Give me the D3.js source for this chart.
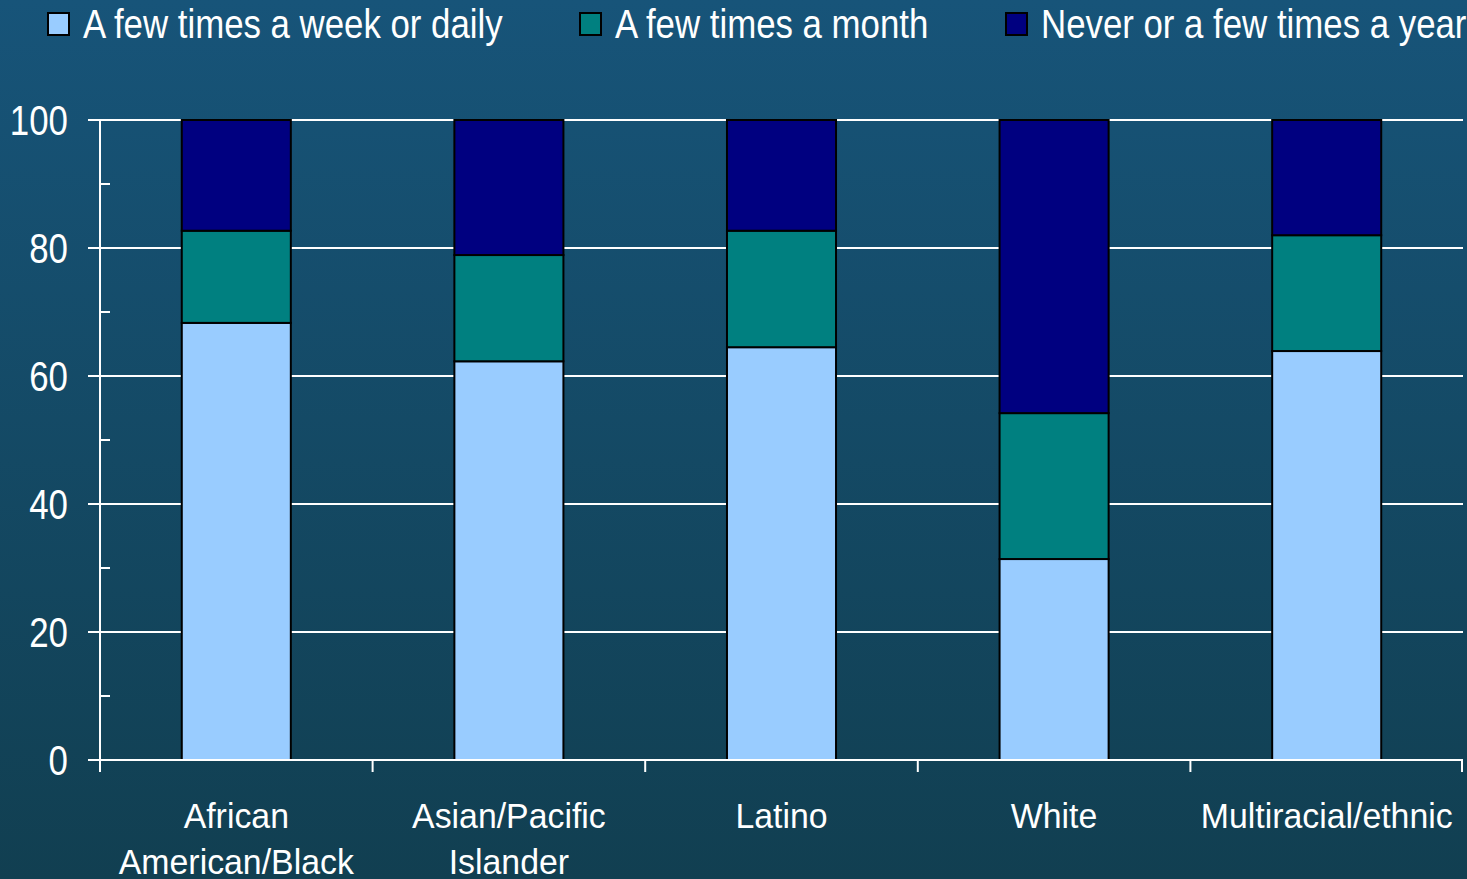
<!DOCTYPE html>
<html>
<head>
<meta charset="utf-8">
<script src="https://cdn.jsdelivr.net/npm/d3@7"></script>
<style>
  html, body { margin: 0; padding: 0; overflow: hidden; }
  svg text { font-family: "Liberation Sans", Arial, sans-serif; fill: #fff; }
</style>
</head>
<body>
<div id="chart"></div>
<script>
const groups = ['African American/Black', 'Asian/Pacific Islander', 'Latino', 'White', 'Multiracial/ethnic'];
const groupLines = [['African', 'American/Black'], ['Asian/Pacific', 'Islander'], ['Latino'], ['White'], ['Multiracial/ethnic']];
const seriesNames = ['A few times a week or daily', 'A few times a month', 'Never or a few times a year'];
const weekly = [68.3, 62.3, 64.5, 31.4, 63.9];
const monthly = [14.4, 16.6, 18.2, 22.8, 18.1];
const yearly = [17.3, 21.1, 17.3, 45.8, 18.0];
const yTicks = [0, 20, 40, 60, 80, 100];
const colors = ['#99ccff', '#008080', '#000080'];

const width = 1467;
const height = 879;
const margin = { top: 120, right: 4, bottom: 119, left: 100 };

const rows = groups.map((g, i) => ({ group: g, s0: weekly[i], s1: monthly[i], s2: yearly[i] }));
const stacked = d3.stack().keys(['s0', 's1', 's2'])(rows);

const svg = d3.select('#chart').append('svg')
  .attr('width', width)
  .attr('height', height);

const defs = svg.append('defs');
const grad = defs.append('linearGradient')
  .attr('id', 'bg').attr('x1', 0).attr('y1', 0).attr('x2', 0).attr('y2', 1);
grad.append('stop').attr('offset', '0%').attr('stop-color', '#175479');
grad.append('stop').attr('offset', '100%').attr('stop-color', '#113f51');
svg.append('rect').attr('width', width).attr('height', height).attr('fill', 'url(#bg)');

const x = d3.scaleBand().domain(groups).range([margin.left, width - margin.right]).paddingInner(0).paddingOuter(0);
const y = d3.scaleLinear().domain([0, 100]).range([height - margin.bottom, margin.top]);

// gridlines
svg.append('g')
  .selectAll('line')
  .data(yTicks.filter(d => d > 0))
  .join('line')
  .attr('x1', margin.left - 12)
  .attr('x2', width - margin.right)
  .attr('y1', d => y(d))
  .attr('y2', d => y(d))
  .attr('stroke', '#fff')
  .attr('stroke-width', 2);

// bars
const barW = x.bandwidth() * 0.4;
svg.append('g')
  .selectAll('g')
  .data(stacked)
  .join('g')
  .attr('fill', (d, i) => colors[i])
  .selectAll('rect')
  .data(d => d)
  .join('rect')
  .attr('x', d => x(d.data.group) + (x.bandwidth() - barW) / 2)
  .attr('y', d => y(d[1]))
  .attr('width', barW)
  .attr('height', d => y(d[0]) - y(d[1]))
  .attr('stroke', '#000')
  .attr('stroke-width', 2);

// y axis (ticks + condensed labels)
const yAxis = svg.append('g');
yAxis.selectAll('line')
  .data(yTicks)
  .join('line')
  .attr('x1', margin.left - 12).attr('x2', margin.left)
  .attr('y1', d => y(d)).attr('y2', d => y(d))
  .attr('stroke', '#fff').attr('stroke-width', 2);
yAxis.selectAll('text')
  .data(yTicks)
  .join('text')
  .attr('transform', d => `translate(68,${y(d)}) scale(0.83,1)`)
  .attr('text-anchor', 'end')
  .attr('dy', '0.36em')
  .attr('font-size', 42)
  .text(d => d);

// minor ticks
svg.append('g')
  .selectAll('line')
  .data(d3.range(10, 100, 20))
  .join('line')
  .attr('x1', margin.left)
  .attr('x2', margin.left + 10)
  .attr('y1', d => y(d))
  .attr('y2', d => y(d))
  .attr('stroke', '#fff')
  .attr('stroke-width', 2);

// vertical axis line
svg.append('line')
  .attr('x1', margin.left).attr('x2', margin.left)
  .attr('y1', y(100)).attr('y2', y(0) + 12)
  .attr('stroke', '#fff').attr('stroke-width', 2);

// x axis baseline + band ticks
svg.append('line')
  .attr('x1', margin.left - 12).attr('x2', width - margin.right)
  .attr('y1', y(0)).attr('y2', y(0))
  .attr('stroke', '#fff').attr('stroke-width', 2);
const edges = groups.map(g => x(g)).concat([x.range()[1] - 1]);
svg.append('g')
  .selectAll('line')
  .data(edges)
  .join('line')
  .attr('x1', d => d).attr('x2', d => d)
  .attr('y1', y(0)).attr('y2', y(0) + 12)
  .attr('stroke', '#fff').attr('stroke-width', 2);

// category labels
const labels = svg.append('g')
  .selectAll('text')
  .data(groups)
  .join('text')
  .attr('transform', d => `translate(${x(d) + x.bandwidth() / 2},${y(0) + 68}) scale(0.94,1)`)
  .attr('text-anchor', 'middle')
  .attr('font-size', 36);
labels.selectAll('tspan')
  .data((d, i) => groupLines[i])
  .join('tspan')
  .attr('x', 0)
  .attr('dy', (d, i) => i === 0 ? 0 : 46)
  .text(d => d);

// legend
const legendX = [48, 580, 1006];
const legend = svg.append('g')
  .selectAll('g')
  .data(seriesNames)
  .join('g')
  .attr('transform', (d, i) => `translate(${legendX[i]},0)`);
legend.append('rect')
  .attr('x', 0).attr('y', 13)
  .attr('width', 21).attr('height', 22)
  .attr('fill', (d, i) => colors[i])
  .attr('stroke', '#000')
  .attr('stroke-width', 2);
legend.append('text')
  .attr('transform', 'translate(35,38) scale(0.87,1)')
  .attr('font-size', 40)
  .text(d => d);
</script>
</body>
</html>
